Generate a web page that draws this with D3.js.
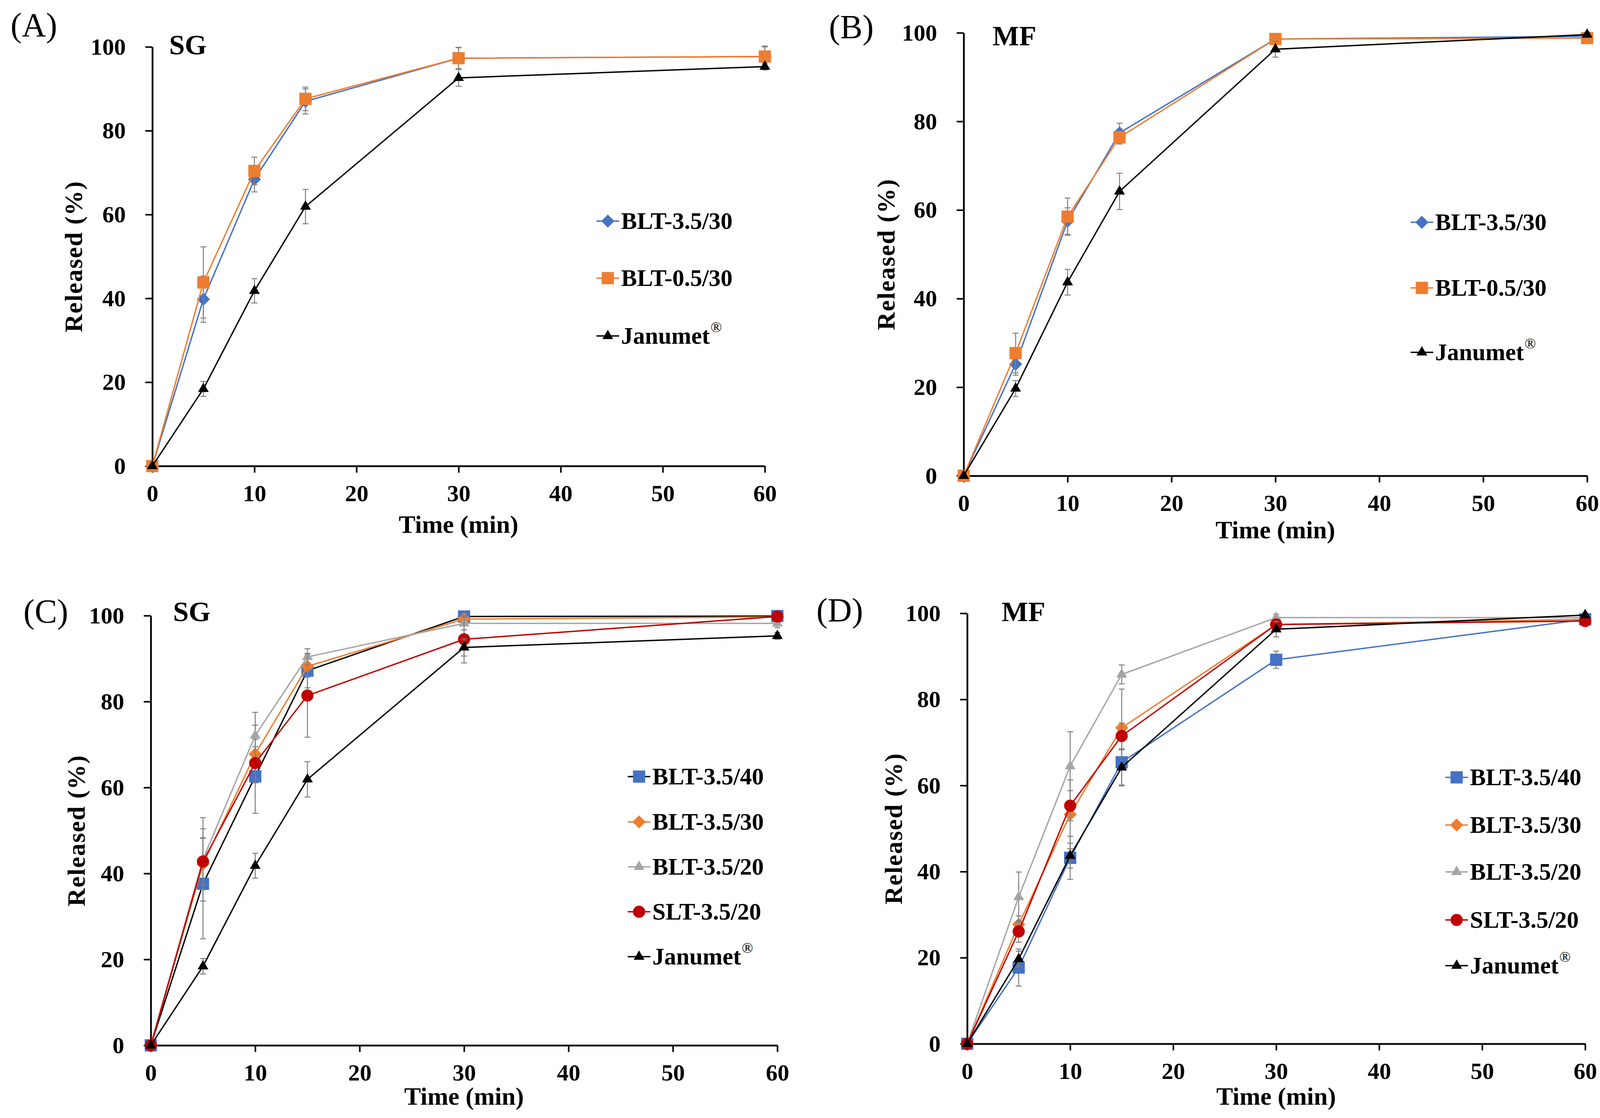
<!DOCTYPE html>
<html>
<head>
<meta charset="utf-8">
<script src="https://cdn.jsdelivr.net/npm/d3@7"></script>
<style>
  body { margin: 0; background: #fff; }
  svg { display: block; }
  text { font-family: "Liberation Serif", "Times New Roman", serif; }
</style>
</head>
<body>
<script>
// ---- data ----
const times = [0, 5, 10, 15, 30, 60];
const xTicks = [0, 10, 20, 30, 40, 50, 60];
const yTicks = [0, 20, 40, 60, 80, 100];

// (A) SG
const sgBlt35_30 = [0, 39.8, 68.4, 87.0, 97.3, 97.7];
const sgBlt35_30Err = [0, 5.5, 3.0, 3.0, 2.5, 2.5];
const sgBlt05_30 = [0, 43.8, 70.4, 87.6, 97.3, 97.7];
const sgBlt05_30Err = [0, 8.5, 3.3, 2.8, 2.6, 2.3];
const sgJanumet = [0, 18.4, 41.8, 61.9, 92.6, 95.3];
const sgJanumetErr = [0, 1.8, 2.9, 4.1, 2.0, 0.8];

// (B) MF
const mfBlt35_30 = [0, 25.2, 57.5, 77.4, 98.6, 99.2];
const mfBlt35_30Err = [0, 2.5, 3.0, 2.2, 0.8, 0.8];
const mfBlt05_30 = [0, 27.7, 58.5, 76.4, 98.6, 98.8];
const mfBlt05_30Err = [0, 4.5, 4.2, 1.5, 0.8, 0.8];
const mfJanumet = [0, 19.7, 43.7, 64.2, 96.3, 99.6];
const mfJanumetErr = [0, 1.8, 2.9, 4.1, 1.8, 0.5];

// (C) SG
const sgBlt35_40 = [0, 37.6, 62.6, 87.2, 99.8, 99.9];
const sgBlt35_40Err = [0, 12.8, 8.6, 4.0, 0.8, 0.8];
const sgBlt35_30b = [0, 42.2, 67.8, 88.2, 99.2, 99.7];
const sgBlt35_30bErr = [0, 6.0, 6.7, 2.5, 0.8, 0.8];
const sgBlt35_20 = [0, 43.3, 72.1, 90.4, 98.2, 98.2];
const sgBlt35_20Err = [0, 9.7, 5.4, 1.9, 1.5, 1.0];
const sgSlt35_20 = [0, 42.8, 65.7, 81.4, 94.5, 99.8];
const sgSlt35_20Err = [0, 5.5, 3.8, 9.7, 5.5, 0.8];

// (D) MF
const mfBlt35_40 = [0, 17.7, 43.2, 65.4, 89.2, 98.6];
const mfBlt35_40Err = [0, 4.3, 5.0, 5.5, 2.0, 1.5];
const mfBlt35_30b = [0, 27.7, 53.3, 73.4, 97.4, 98.6];
const mfBlt35_30bErr = [0, 2.0, 8.0, 9.0, 1.0, 1.0];
const mfBlt35_20 = [0, 34.1, 64.5, 85.8, 99.0, 99.0];
const mfBlt35_20Err = [0, 5.8, 8.0, 2.2, 0.8, 0.8];
const mfSlt35_20 = [0, 26.1, 55.3, 71.5, 97.4, 98.2];
const mfSlt35_20Err = [0, 2.5, 3.5, 3.0, 1.0, 1.0];

// ---- styling ----
const BLUE = "#4472C4", ORANGE = "#ED7D31", GRAY = "#A5A5A5", RED = "#C00000", BLACK = "#000";
const ERR = "#7F7F7F";

// Excel style diamond: a square turned 45 degrees
const diamond = {
    draw(ctx, size) {
        const r = Math.sqrt(size / 2);
        ctx.moveTo(0, -r); ctx.lineTo(r, 0); ctx.lineTo(0, r); ctx.lineTo(-r, 0); ctx.closePath();
    }
};
const markers = {
    diamond: d3.symbol().type(diamond).size(560),
    square: d3.symbol().type(d3.symbolSquare).size(980),
    triangle: d3.symbol().type(d3.symbolTriangle).size(330),
    circle: d3.symbol().type(d3.symbolCircle).size(760)
};

const panels = [
    {
        tag: "(A)", medium: "SG",
        left: 390, right: 1958, top: 120, bottom: 1193,
        tagPos: [27, 93], medPos: [433, 139], timeY: 1364, relX: 188,
        legX: 1556, legY: [566, 712, 860],
        series: [
            { name: "BLT-3.5/30", v: sgBlt35_30, e: sgBlt35_30Err, fill: BLUE, line: BLUE, m: "diamond" },
            { name: "BLT-0.5/30", v: sgBlt05_30, e: sgBlt05_30Err, fill: ORANGE, line: ORANGE, m: "square" },
            { name: "Janumet", v: sgJanumet, e: sgJanumetErr, fill: BLACK, line: BLACK, m: "triangle", reg: true }
        ]
    },
    {
        tag: "(B)", medium: "MF",
        left: 2467, right: 4063, top: 84, bottom: 1218,
        tagPos: [2122, 98], medPos: [2541, 116], timeY: 1378, relX: 2268,
        legX: 3640, legY: [569, 737, 902],
        series: [
            { name: "BLT-3.5/30", v: mfBlt35_30, e: mfBlt35_30Err, fill: BLUE, line: BLUE, m: "diamond" },
            { name: "BLT-0.5/30", v: mfBlt05_30, e: mfBlt05_30Err, fill: ORANGE, line: ORANGE, m: "square" },
            { name: "Janumet", v: mfJanumet, e: mfJanumetErr, fill: BLACK, line: BLACK, m: "triangle", reg: true }
        ]
    },
    {
        tag: "(C)", medium: "SG",
        left: 386, right: 1990, top: 1576, bottom: 2676,
        tagPos: [60, 1594], medPos: [443, 1590], timeY: 2828, relX: 195,
        legX: 1636, legY: [1988, 2104, 2219, 2334, 2449],
        series: [
            { name: "BLT-3.5/40", v: sgBlt35_40, e: sgBlt35_40Err, fill: BLUE, line: BLACK, m: "square" },
            { name: "BLT-3.5/30", v: sgBlt35_30b, e: sgBlt35_30bErr, fill: ORANGE, line: ORANGE, m: "diamond" },
            { name: "BLT-3.5/20", v: sgBlt35_20, e: sgBlt35_20Err, fill: GRAY, line: GRAY, m: "triangle" },
            { name: "SLT-3.5/20", v: sgSlt35_20, e: sgSlt35_20Err, fill: RED, line: RED, m: "circle" },
            { name: "Janumet", v: sgJanumet, e: sgJanumetErr, fill: BLACK, line: BLACK, m: "triangle", reg: true }
        ]
    },
    {
        tag: "(D)", medium: "MF",
        left: 2476, right: 4058, top: 1570, bottom: 2672,
        tagPos: [2090, 1591], medPos: [2564, 1590], timeY: 2828, relX: 2287,
        legX: 3729, legY: [1990, 2112, 2232, 2355, 2472],
        series: [
            { name: "BLT-3.5/40", v: mfBlt35_40, e: mfBlt35_40Err, fill: BLUE, line: BLUE, m: "square" },
            { name: "BLT-3.5/30", v: mfBlt35_30b, e: mfBlt35_30bErr, fill: ORANGE, line: ORANGE, m: "diamond" },
            { name: "BLT-3.5/20", v: mfBlt35_20, e: mfBlt35_20Err, fill: GRAY, line: GRAY, m: "triangle" },
            { name: "SLT-3.5/20", v: mfSlt35_20, e: mfSlt35_20Err, fill: RED, line: RED, m: "circle" },
            { name: "Janumet", v: mfJanumet, e: mfJanumetErr, fill: BLACK, line: BLACK, m: "triangle", reg: true }
        ]
    }
];

const W = 4111, H = 2862;
const svg = d3.select("body").append("svg")
    .attr("width", W)
    .attr("height", H)
    .attr("viewBox", `0 0 ${W} ${H}`);

svg.append("rect").attr("width", W).attr("height", H).attr("fill", "#fff");

panels.forEach(p => {
    const g = svg.append("g");
    const x = d3.scaleLinear().domain([0, 60]).range([p.left, p.right]);
    const y = d3.scaleLinear().domain([0, 100]).range([p.bottom, p.top]);

    // axes
    const xAxis = g.append("g")
        .attr("transform", `translate(0,${p.bottom})`)
        .call(d3.axisBottom(x).tickValues(xTicks).tickSize(17).tickSizeOuter(0).tickPadding(30));
    const yAxis = g.append("g")
        .attr("transform", `translate(${p.left},0)`)
        .call(d3.axisLeft(y).tickValues(yTicks).tickSize(18).tickSizeOuter(0).tickPadding(50));
    [xAxis, yAxis].forEach(a => {
        a.select(".domain").attr("stroke", "#000").attr("stroke-width", 4.5);
        a.selectAll(".tick line").attr("stroke", "#000").attr("stroke-width", 4);
        a.selectAll(".tick text")
            .attr("fill", "#000")
            .style("font-size", "60px")
            .style("font-weight", "bold");
    });

    // titles
    g.append("text")
        .attr("x", (p.left + p.right) / 2)
        .attr("y", p.timeY)
        .attr("text-anchor", "middle")
        .style("font-size", "64px")
        .style("font-weight", "bold")
        .text("Time (min)");
    g.append("text")
        .attr("transform", `translate(${p.relX + 22},${(p.top + p.bottom) / 2}) rotate(-90)`)
        .attr("text-anchor", "middle")
        .style("font-size", "64px")
        .style("font-weight", "bold")
        .style("letter-spacing", "2px")
        .text("Released (%)");
    g.append("text")
        .attr("x", p.tagPos[0])
        .attr("y", p.tagPos[1])
        .style("font-size", "86px")
        .text(p.tag);
    g.append("text")
        .attr("x", p.medPos[0])
        .attr("y", p.medPos[1])
        .style("font-size", "72px")
        .style("font-weight", "bold")
        .text(p.medium);

    // series: line, error bars, markers
    const line = d3.line().x((d, i) => x(times[i])).y(d => y(d));
    p.series.forEach(s => {
        const sg = g.append("g");
        sg.append("path")
            .datum(s.v)
            .attr("d", line)
            .attr("fill", "none")
            .attr("stroke", s.line)
            .attr("stroke-width", 3.5)
            .attr("stroke-linejoin", "round");

        const bars = times.map((t, i) => ({ t, v: s.v[i], e: s.e[i] })).filter(d => d.e > 0);
        const eb = sg.append("g").attr("stroke", ERR).attr("stroke-width", 2.5);
        eb.selectAll("line.v").data(bars).join("line").attr("class", "v")
            .attr("x1", d => x(d.t)).attr("x2", d => x(d.t))
            .attr("y1", d => y(d.v - d.e)).attr("y2", d => y(d.v + d.e));
        eb.selectAll("line.hi").data(bars).join("line").attr("class", "hi")
            .attr("x1", d => x(d.t) - 7.5).attr("x2", d => x(d.t) + 7.5)
            .attr("y1", d => y(d.v + d.e)).attr("y2", d => y(d.v + d.e));
        eb.selectAll("line.lo").data(bars).join("line").attr("class", "lo")
            .attr("x1", d => x(d.t) - 7.5).attr("x2", d => x(d.t) + 7.5)
            .attr("y1", d => y(d.v - d.e)).attr("y2", d => y(d.v - d.e));

        sg.selectAll("path.mk").data(s.v).join("path").attr("class", "mk")
            .attr("d", markers[s.m])
            .attr("transform", (d, i) => `translate(${x(times[i])},${y(d)})`)
            .attr("fill", s.fill);
    });

    // legend
    const leg = g.append("g");
    p.series.forEach((s, i) => {
        const ly = p.legY[i];
        leg.append("line")
            .attr("x1", p.legX - 29).attr("x2", p.legX + 29)
            .attr("y1", ly).attr("y2", ly)
            .attr("stroke", s.line).attr("stroke-width", 3.5);
        leg.append("path")
            .attr("d", markers[s.m])
            .attr("transform", `translate(${p.legX},${ly})`)
            .attr("fill", s.fill);
        const t = leg.append("text")
            .attr("x", p.legX + 34)
            .attr("y", ly + 20)
            .style("font-size", "61px")
            .style("font-weight", "bold")
            .text(s.name);
        if (s.reg) {
            t.append("tspan")
                .attr("dy", -30)
                .attr("dx", 2)
                .style("font-size", "38px")
                .style("font-weight", "normal")
                .text("®");
        }
    });
});
</script>
</body>
</html>
